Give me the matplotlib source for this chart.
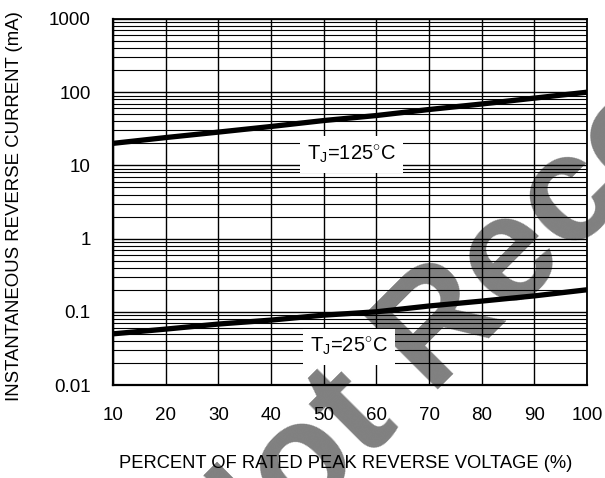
import matplotlib
matplotlib.use("Agg")
import matplotlib.pyplot as plt
from matplotlib.ticker import FixedLocator, FixedFormatter, LogLocator, NullFormatter

plt.rcParams['font.family'] = ['Liberation Sans', 'DejaVu Sans']
plt.rcParams['mathtext.fontset'] = 'custom'
plt.rcParams['mathtext.rm'] = 'Liberation Sans'
plt.rcParams['mathtext.it'] = 'Liberation Sans:italic'

# data
voltage_pct = [10, 20, 30, 40, 50, 60, 70, 80, 90, 100]
current_125 = [20, 24, 28.5, 34, 41, 48, 58, 69, 83, 100]
current_25 = [0.05, 0.058, 0.068, 0.077, 0.09, 0.10, 0.12, 0.14, 0.165, 0.20]
x_ticks = [10, 20, 30, 40, 50, 60, 70, 80, 90, 100]
y_ticks = [0.01, 0.1, 1, 10, 100, 1000]
y_tick_labels = ["0.01", "0.1", "1", "10", "100", "1000"]
label_125 = r'T$_\mathrm{J}$=125$^{\circ}$C'
label_25 = r'T$_\mathrm{J}$=25$^{\circ}$C'

W, H = 605, 478
fig = plt.figure(figsize=(W / 100, H / 100), dpi=100)

# watermark behind everything
fig.text(221 / W, 1 - 606 / H, "Not Recommended", rotation=45, rotation_mode='anchor',
         ha='left', va='baseline', fontsize=110, fontweight='bold', color='#808080',
         zorder=0)

ax = fig.add_axes([113 / W, (H - 385) / H, (587 - 113) / W, (385 - 19) / H])
ax.patch.set_alpha(0)
ax.set_zorder(1)

ax.set_yscale('log')
ax.set_xlim(10, 100)
ax.set_ylim(0.01, 1000)

ax.xaxis.set_major_locator(FixedLocator(x_ticks))
ax.yaxis.set_major_locator(FixedLocator(y_ticks))
ax.yaxis.set_major_formatter(FixedFormatter(y_tick_labels))
ax.yaxis.set_minor_locator(LogLocator(base=10, subs=range(2, 10), numticks=20))
ax.yaxis.set_minor_formatter(NullFormatter())

ax.grid(True, which='major', axis='both', color='black', linewidth=1.0)
ax.grid(True, which='minor', axis='y', color='black', linewidth=0.8)
ax.tick_params(axis='both', which='both', length=0, labelsize=13.5, colors='black')
ax.tick_params(axis='y', pad=16)
ax.tick_params(axis='x', pad=16)

for s in ax.spines.values():
    s.set_linewidth(1.3)
ax.spines['left'].set_linewidth(1.6)
ax.spines['bottom'].set_linewidth(1.6)

ax.plot(voltage_pct, current_125, color='black', linewidth=3.8, solid_capstyle='butt', zorder=3)
ax.plot(voltage_pct, current_25, color='black', linewidth=3.8, solid_capstyle='butt', zorder=3)

bbox = dict(boxstyle='square,pad=0.35', facecolor='white', edgecolor='none')
ax.text(55.2, 14.1, label_125, ha='center', va='center', fontsize=14.5, bbox=bbox, zorder=4)
ax.text(54.8, 0.0333, label_25, ha='center', va='center', fontsize=14.5, bbox=bbox, zorder=4)

fig.text(346 / W, 1 - 463 / H, "PERCENT OF RATED PEAK REVERSE VOLTAGE (%)",
         ha='center', va='center', fontsize=13.2)
fig.text(15 / W, 1 - 206 / H, "INSTANTANEOUS REVERSE CURRENT (mA)",
         ha='center', va='center', rotation=90, fontsize=13.4)

fig.savefig("out.png", dpi=100)
